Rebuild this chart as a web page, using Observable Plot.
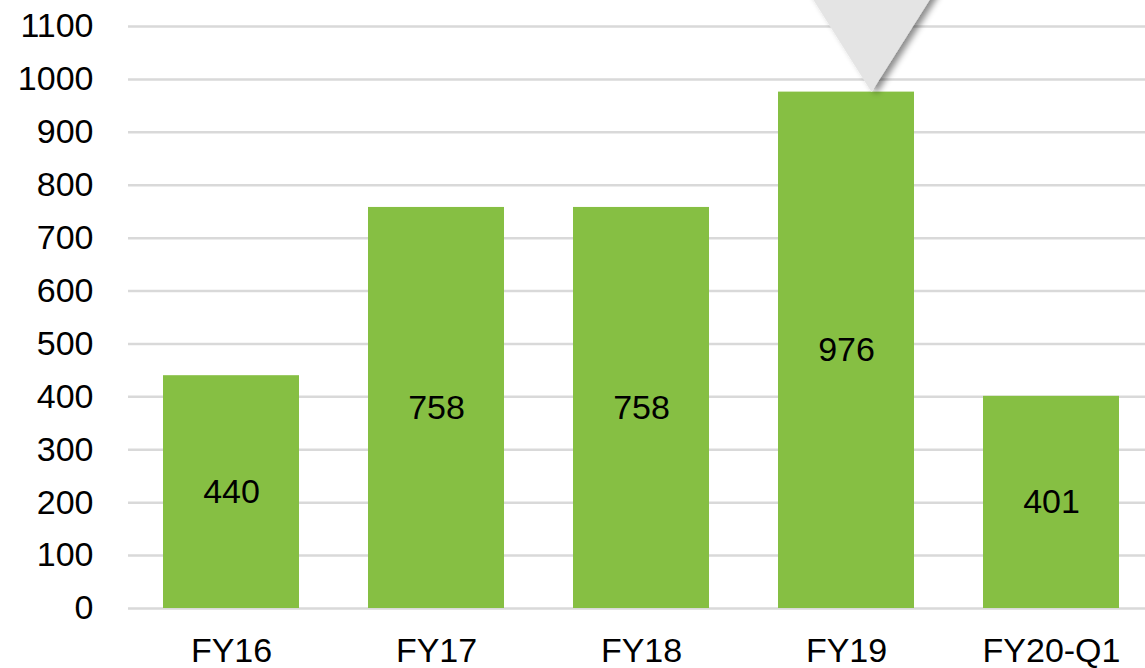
<!DOCTYPE html>
<html>
<head>
<meta charset="utf-8">
<script src="https://cdn.jsdelivr.net/npm/d3@7"></script>
<script src="https://cdn.jsdelivr.net/npm/@observablehq/plot@0.6"></script>
<style>
  html, body { margin: 0; padding: 0; background: #fff; overflow: hidden; }
  #chart { width: 1145px; height: 668px; overflow: hidden; }
  #chart svg { max-width: none !important; }
</style>
</head>
<body>
<div id="chart"></div>
<script>
const categories = ["FY16", "FY17", "FY18", "FY19", "FY20-Q1"];
const values = [440, 758, 758, 976, 401];
const yTicks = [0, 100, 200, 300, 400, 500, 600, 700, 800, 900, 1000, 1100];
const highlight = "FY19";

const data = categories.map((c, i) => ({category: c, value: values[i]}));
const hl = data.filter(d => d.category === highlight);

// downward-pointing triangle with its apex at the anchor point
const downTriangle = {
  draw(ctx, size) {
    const h = 130, halfW = 0.63 * h;
    ctx.moveTo(0, 0);
    ctx.lineTo(-halfW, -h);
    ctx.lineTo(halfW, -h);
    ctx.closePath();
  }
};

const chart = Plot.plot({
  width: 1154,
  height: 668,
  marginTop: 26,
  marginBottom: 60,
  marginLeft: 128,
  marginRight: 0,
  style: {fontFamily: "'Liberation Sans', Arial, sans-serif", fontSize: "34px", color: "#000", background: "#fff", maxWidth: "none"},
  x: {domain: categories, paddingInner: 0.337, paddingOuter: 0.1685, label: null},
  y: {domain: [0, 1100], label: null},
  marks: [
    Plot.gridY(yTicks, {stroke: "#d9d9d9", strokeOpacity: 1, strokeWidth: 2.5}),
    Plot.axisY({ticks: yTicks, tickFormat: d => String(d), tickSize: 0, tickPadding: 35, fontSize: 34, label: null}),
    Plot.axisX({tickSize: 0, tickPadding: 29, fontSize: 34, label: null}),
    Plot.barY(data, {x: "category", y: "value", fill: "#86bf43"}),
    Plot.text(data, {x: "category", y: d => d.value / 2, text: d => String(d.value), fill: "#000", fontSize: 34}),
    Plot.dot(hl, {x: "category", y: "value", symbol: downTriangle, r: 10, fill: "#e4e4e4", stroke: "none", dx: 25, className: "callout"})
  ]
});

// soft drop shadow for the callout triangle
const svg = d3.select(chart);
svg.style("max-width", "none").style("width", "1154px").style("height", "668px");
const defs = svg.insert("defs", ":first-child");
const f = defs.append("filter").attr("id", "shadow").attr("x", "-30%").attr("y", "-30%").attr("width", "160%").attr("height", "160%");
f.append("feDropShadow").attr("dx", 5).attr("dy", 2).attr("stdDeviation", 3).attr("flood-color", "#000").attr("flood-opacity", 0.45);
svg.selectAll("g.callout").attr("filter", "url(#shadow)");

document.getElementById("chart").appendChild(chart);
</script>
</body>
</html>
